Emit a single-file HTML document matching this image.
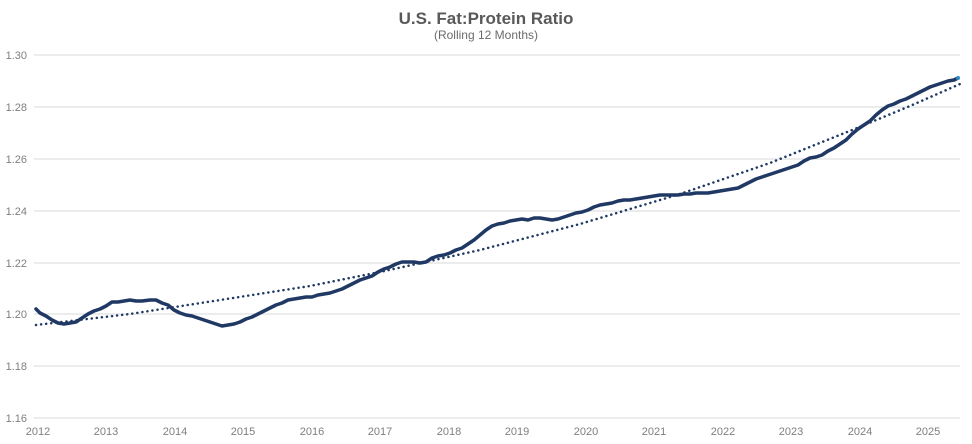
<!DOCTYPE html>
<html><head><meta charset="utf-8"><style>
body{margin:0;background:#fff;}
svg{display:block;font-family:"Liberation Sans",sans-serif;}
</style></head><body>
<svg width="972" height="444" viewBox="0 0 972 444">
<text x="486" y="24" text-anchor="middle" font-size="17" font-weight="bold" fill="#595959">U.S. Fat:Protein Ratio</text>
<text x="486" y="39" text-anchor="middle" font-size="12" fill="#6b6b6b">(Rolling 12 Months)</text>
<g stroke="#d9d9d9" stroke-width="1">
<line x1="34" x2="960" y1="55" y2="55"/><line x1="34" x2="960" y1="107" y2="107"/>
<line x1="34" x2="960" y1="159" y2="159"/><line x1="34" x2="960" y1="211" y2="211"/>
<line x1="34" x2="960" y1="263" y2="263"/><line x1="34" x2="960" y1="314" y2="314"/>
<line x1="34" x2="960" y1="366" y2="366"/><line x1="34" x2="960" y1="418" y2="418"/>
</g>
<g font-size="11" fill="#7f7f7f" text-anchor="end">
<text x="27" y="59">1.30</text><text x="27" y="111">1.28</text><text x="27" y="163">1.26</text>
<text x="27" y="215">1.24</text><text x="27" y="267">1.22</text><text x="27" y="318">1.20</text>
<text x="27" y="370">1.18</text><text x="27" y="422">1.16</text>
</g>
<g font-size="11" fill="#7f7f7f" text-anchor="middle">
<text x="38" y="435">2012</text><text x="106" y="435">2013</text><text x="175" y="435">2014</text>
<text x="243" y="435">2015</text><text x="312" y="435">2016</text><text x="380" y="435">2017</text>
<text x="449" y="435">2018</text><text x="517" y="435">2019</text><text x="586" y="435">2020</text>
<text x="654" y="435">2021</text><text x="723" y="435">2022</text><text x="791" y="435">2023</text>
<text x="860" y="435">2024</text><text x="928" y="435">2025</text>
</g>
<polyline fill="none" points="36,325 130,314 233,298 310,286 380,272 480,250 580,224 680,194 770,163 857,128 910,106 960,84" stroke="#1f3864" stroke-width="2.5" stroke-dasharray="0.1 5" stroke-linecap="round" stroke-linejoin="round"/>
<polyline fill="none" stroke="#1f3864" stroke-width="3.5" stroke-linejoin="round" stroke-linecap="round" points="36,309 40,313 46,316 52,320 58,323 64,324 70,323 76,322 82,318 88,314 94,311 100,309 106,306 112,302 118,302 124,301 130,300 136,301 142,301 150,300 156,300 162,303 168,305 174,310 180,313 186,315 192,316 198,318 204,320 210,322 216,324 222,326 228,325 234,324 240,322 246,319 252,317 258,314 264,311 270,308 276,305 282,303 288,300 294,299 300,298 306,297 312,297 318,295 324,294 330,293 336,291 342,289 348,286 354,283 360,280 366,278 372,276 378,272 384,269 390,267 396,264 402,262 408,262 414,262 420,263 426,262 432,258 438,256 444,255 450,253 456,250 462,248 468,244 474,240 480,235 486,230 492,226 498,224 504,223 510,221 516,220 522,219 528,220 534,218 540,218 546,219 552,220 558,219 564,217 570,215 576,213 582,212 588,210 594,207 600,205 606,204 612,203 618,201 624,200 630,200 636,199 642,198 648,197 654,196 660,195 666,195 672,195 678,195 684,194 690,194 696,193 702,193 708,193 714,192 720,191 726,190 732,189 738,188 744,185 750,182 756,179 762,177 768,175 774,173 780,171 786,169 792,167 798,165 804,161 810,158 816,157 822,155 828,151 834,148 840,144 846,140 852,134 858,129 864,125 870,121 876,115 882,110 888,106 894,104 900,101 906,99 912,96 918,93 924,90 930,87 936,85 942,83 948,81 954,80 958,78"/>
<circle cx="958" cy="78" r="2" fill="#2e8bc0"/>
</svg>
</body></html>
